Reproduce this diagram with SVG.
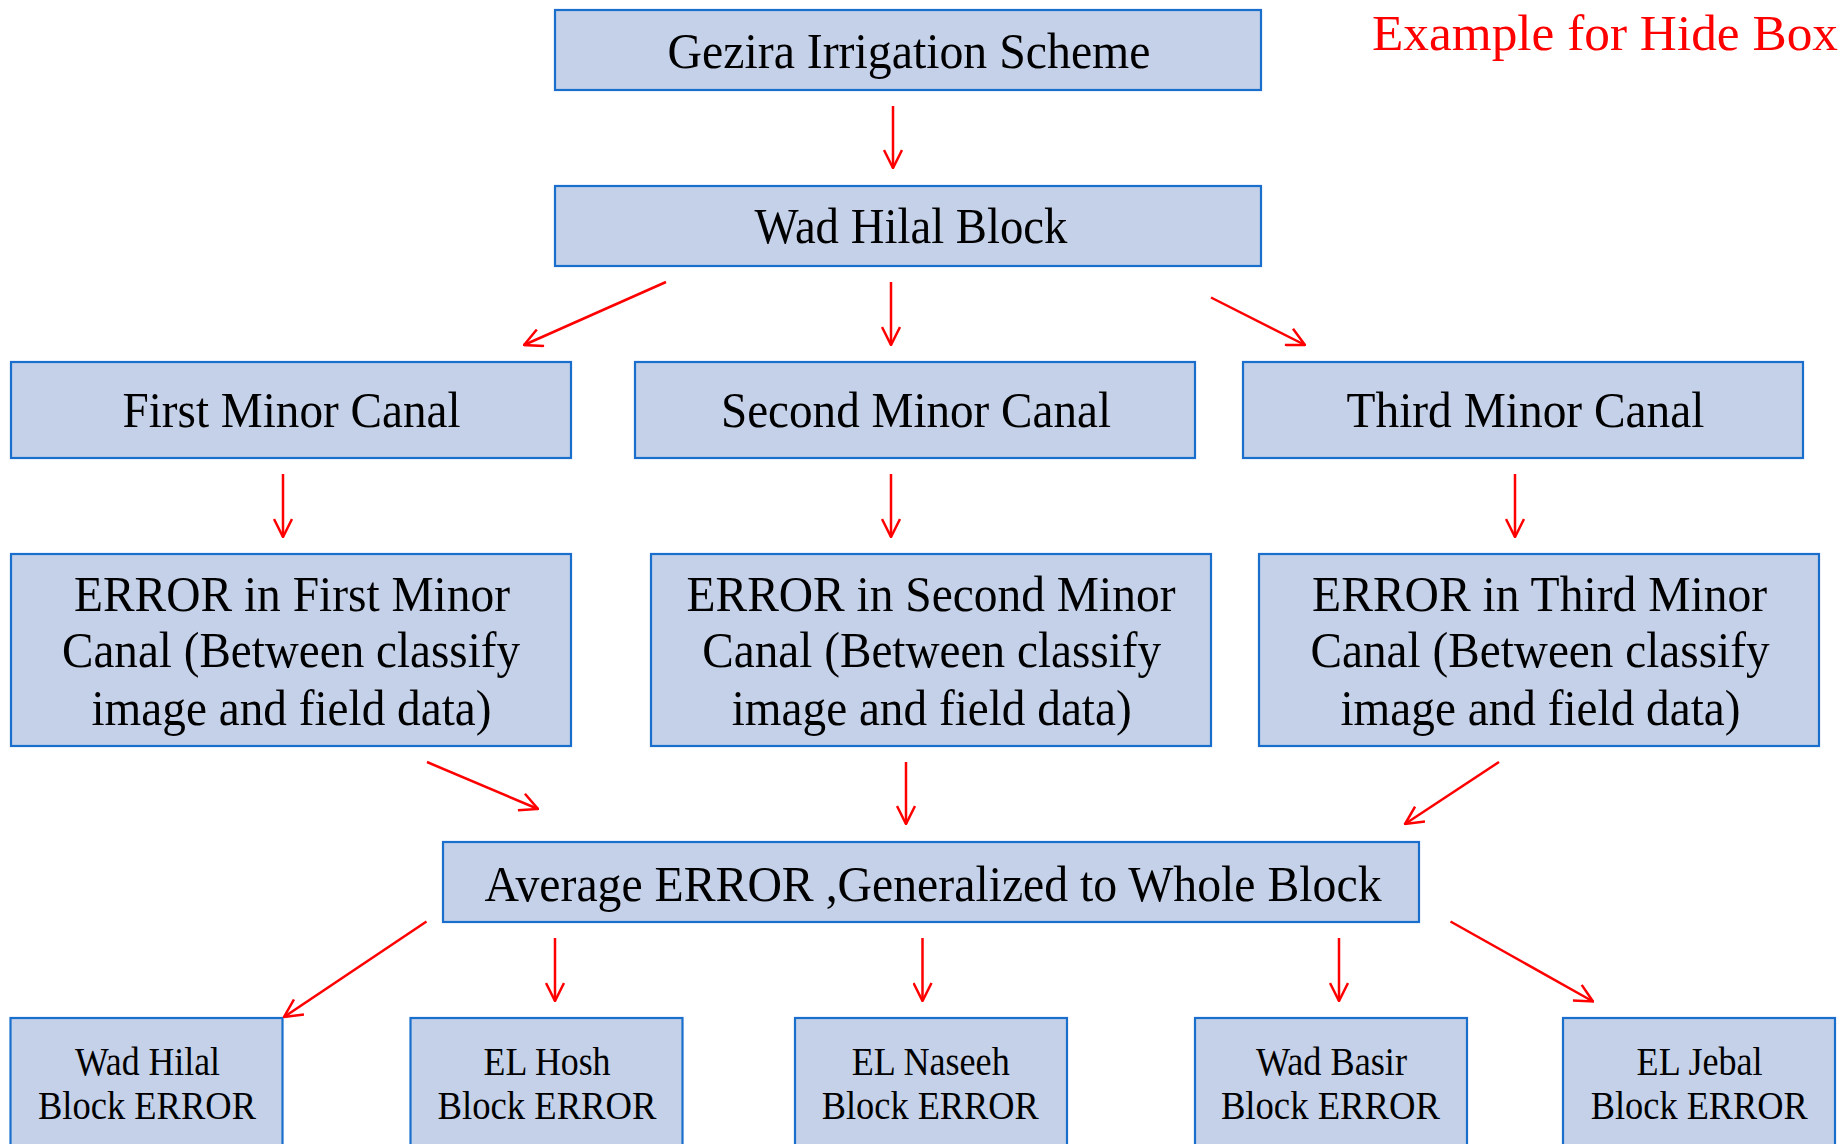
<svg xmlns="http://www.w3.org/2000/svg" width="1843" height="1144" viewBox="0 0 1843 1144">
<defs>
<style>
.box{fill:#C4D1E8;stroke:#1A6FCC;stroke-width:2.2}
text{font-family:'Liberation Serif',serif}
.t{font-size:50px;fill:#000;text-anchor:middle}
.s{font-size:40px;fill:#000;text-anchor:middle}
.c line{stroke:#FF0000;stroke-width:2.5;fill:none;marker-end:url(#ah)}
</style>
<marker id="ah" viewBox="0 0 20 20" refX="19" refY="10" markerWidth="20" markerHeight="20" markerUnits="userSpaceOnUse" orient="auto">
<path d="M1,1 L19,10 L1,19" fill="none" stroke="#FF0000" stroke-width="2.5"/>
</marker>
</defs>
<rect width="1843" height="1144" fill="#fff"/>
<g font-family="Liberation Serif, serif">
<text x="1372" y="50" font-size="51" fill="#FF0000" textLength="466" lengthAdjust="spacingAndGlyphs">Example for Hide Box</text>
<g id="n-gezira"><rect class="box" x="555" y="10" width="706" height="80"/><text class="t" x="909" y="68" textLength="483" lengthAdjust="spacingAndGlyphs">Gezira Irrigation  Scheme</text></g>
<g id="n-wadhilal"><rect class="box" x="555" y="186" width="706" height="80"/><text class="t" x="911" y="243" textLength="313" lengthAdjust="spacingAndGlyphs">Wad Hilal  Block</text></g>
<g id="n-first"><rect class="box" x="11" y="362" width="560" height="96"/><text class="t" x="291.5" y="427" textLength="338" lengthAdjust="spacingAndGlyphs">First Minor  Canal</text></g>
<g id="n-second"><rect class="box" x="635" y="362" width="560" height="96"/><text class="t" x="916" y="427" textLength="390" lengthAdjust="spacingAndGlyphs">Second Minor  Canal</text></g>
<g id="n-third"><rect class="box" x="1243" y="362" width="560" height="96"/><text class="t" x="1525.5" y="427" textLength="358" lengthAdjust="spacingAndGlyphs">Third Minor  Canal</text></g>
<g id="n-err1"><rect class="box" x="11" y="554" width="560" height="192"/>
<text class="t" x="292" y="611" textLength="436" lengthAdjust="spacingAndGlyphs">ERROR in First Minor</text>
<text class="t" x="291" y="667" textLength="458" lengthAdjust="spacingAndGlyphs">Canal (Between  classify</text>
<text class="t" x="291.5" y="725" textLength="400" lengthAdjust="spacingAndGlyphs">image  and field  data)</text></g>
<g id="n-err2"><rect class="box" x="651" y="554" width="560" height="192"/>
<text class="t" x="931" y="611" textLength="489" lengthAdjust="spacingAndGlyphs">ERROR in Second Minor</text>
<text class="t" x="931.7" y="667" textLength="459" lengthAdjust="spacingAndGlyphs">Canal (Between  classify</text>
<text class="t" x="931.7" y="725" textLength="400" lengthAdjust="spacingAndGlyphs">image  and field  data)</text></g>
<g id="n-err3"><rect class="box" x="1259" y="554" width="560" height="192"/>
<text class="t" x="1539.6" y="611" textLength="455" lengthAdjust="spacingAndGlyphs">ERROR in Third Minor</text>
<text class="t" x="1540" y="667" textLength="459" lengthAdjust="spacingAndGlyphs">Canal (Between  classify</text>
<text class="t" x="1540.5" y="725" textLength="400" lengthAdjust="spacingAndGlyphs">image  and field  data)</text></g>
<g id="n-avg"><rect class="box" x="443" y="842" width="976" height="80"/><text class="t" x="933" y="901" textLength="897" lengthAdjust="spacingAndGlyphs">Average  ERROR ,Generalized  to Whole Block</text></g>
<g id="n-b1"><rect class="box" x="10.5" y="1018" width="272" height="200"/>
<text class="s" x="147.5" y="1075" textLength="145" lengthAdjust="spacingAndGlyphs">Wad Hilal</text>
<text class="s" x="147" y="1119" textLength="218" lengthAdjust="spacingAndGlyphs">Block ERROR</text></g>
<g id="n-b2"><rect class="box" x="410.5" y="1018" width="272" height="200"/>
<text class="s" x="547" y="1075" textLength="127" lengthAdjust="spacingAndGlyphs">EL Hosh</text>
<text class="s" x="547" y="1119" textLength="219" lengthAdjust="spacingAndGlyphs">Block ERROR</text></g>
<g id="n-b3"><rect class="box" x="795" y="1018" width="272" height="200"/>
<text class="s" x="930.7" y="1075" textLength="158" lengthAdjust="spacingAndGlyphs">EL Naseeh</text>
<text class="s" x="930.3" y="1119" textLength="217" lengthAdjust="spacingAndGlyphs">Block ERROR</text></g>
<g id="n-b4"><rect class="box" x="1195" y="1018" width="272" height="200"/>
<text class="s" x="1331.5" y="1075" textLength="151" lengthAdjust="spacingAndGlyphs">Wad Basir</text>
<text class="s" x="1330.4" y="1119" textLength="219" lengthAdjust="spacingAndGlyphs">Block ERROR</text></g>
<g id="n-b5"><rect class="box" x="1563" y="1018" width="272" height="200"/>
<text class="s" x="1699.6" y="1075" textLength="126" lengthAdjust="spacingAndGlyphs">EL Jebal</text>
<text class="s" x="1699.3" y="1119" textLength="217" lengthAdjust="spacingAndGlyphs">Block ERROR</text></g>
</g>
<g id="connectors" class="c">
<line x1="893" y1="106" x2="893" y2="168"/>
<line x1="666" y1="282" x2="524" y2="345"/>
<line x1="891" y1="282" x2="891" y2="345"/>
<line x1="1211" y1="297.5" x2="1305" y2="345"/>
<line x1="283" y1="474" x2="283" y2="537"/>
<line x1="891" y1="474" x2="891" y2="537"/>
<line x1="1515" y1="474" x2="1515" y2="537"/>
<line x1="427" y1="762" x2="538" y2="809"/>
<line x1="906" y1="762" x2="906" y2="824"/>
<line x1="1499" y1="762" x2="1405" y2="824"/>
<line x1="426.5" y1="921.5" x2="284" y2="1017"/>
<line x1="555" y1="938" x2="555" y2="1001"/>
<line x1="922.5" y1="938" x2="922.5" y2="1001"/>
<line x1="1339" y1="938" x2="1339" y2="1001"/>
<line x1="1450.5" y1="921.5" x2="1593" y2="1001.5"/>
</g>
</svg>
